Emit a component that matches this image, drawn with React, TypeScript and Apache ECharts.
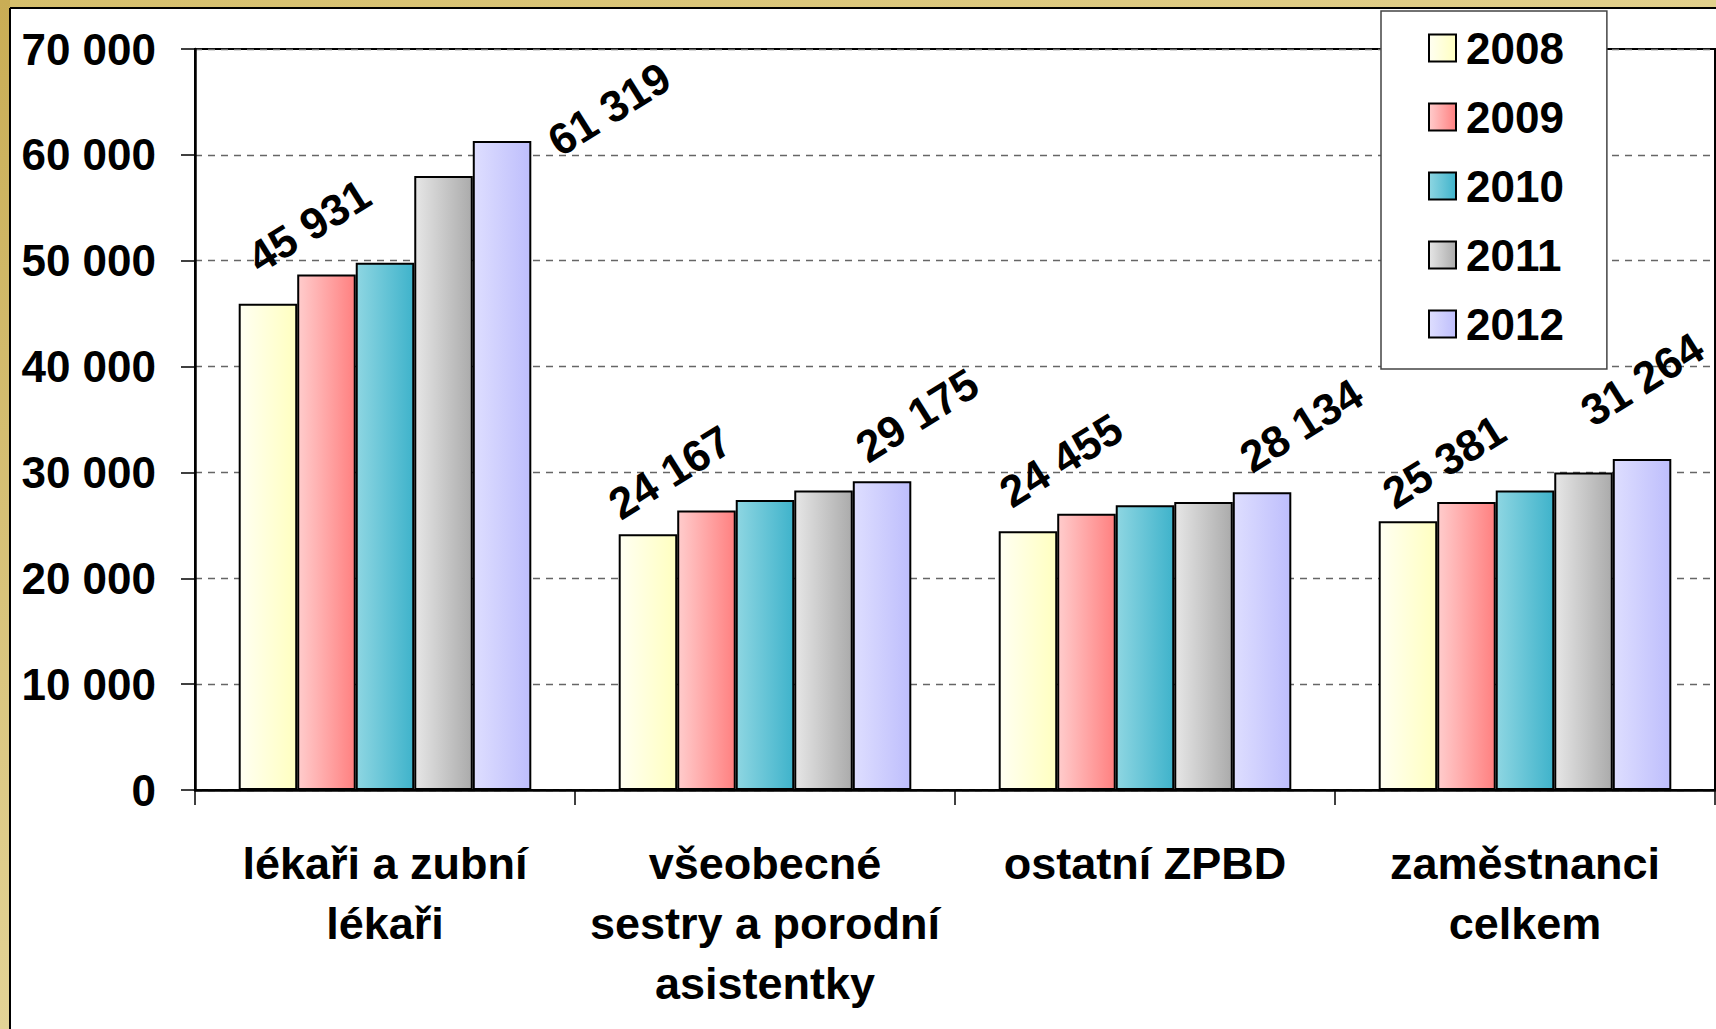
import React, { useEffect, useRef } from "react";
import * as echarts from "echarts";

const categories = [
  "lékaři a zubní\nlékaři",
  "všeobecné\nsestry a porodní\nasistentky",
  "ostatní ZPBD",
  "zaměstnanci\ncelkem",
];
const years = ["2008", "2009", "2010", "2011", "2012"];
const v2008 = [45931, 24167, 24455, 25381];
const v2009 = [48700, 26400, 26100, 27200];
const v2010 = [49800, 27400, 26900, 28300];
const v2011 = [58000, 28300, 27200, 30000];
const v2012 = [61319, 29175, 28134, 31264];
const yMin = 0;
const yMax = 70000;
const yStep = 10000;

// label placement nudges (screen px, label centre relative to bar top centre)
const nudge2008 = [[41, -78], [22, -62], [33, -71], [36, -60]];
const nudge2012 = [[107, -32], [35, -66], [39, -67], [0, -80]];

const FONT = "'Liberation Sans', Arial, sans-serif";
const ROT = 32;

const fmt = (v: number) => String(Math.round(v)).replace(/\B(?=(\d{3})+(?!\d))/g, " ");

const toOffset = (d: number[]) => {
  const r = (ROT * Math.PI) / 180;
  const c = Math.cos(r);
  const s = Math.sin(r);
  return [d[0] * c - d[1] * s, d[0] * s + d[1] * c];
};

const grad = (c1: string, c2: string) =>
  new echarts.graphic.LinearGradient(0, 0, 1, 0, [
    { offset: 0, color: c1 },
    { offset: 1, color: c2 },
  ]);

const seriesDefs = [
  { data: v2008, c1: "#FFFFF2", c2: "#FFFFC0", nudges: nudge2008 },
  { data: v2009, c1: "#FFCCCC", c2: "#FF8080", nudges: null },
  { data: v2010, c1: "#8ED6E2", c2: "#3FB3CB", nudges: null },
  { data: v2011, c1: "#E6E6E6", c2: "#ABABAB", nudges: null },
  { data: v2012, c1: "#DEDEFF", c2: "#BEBEFC", nudges: nudge2012 },
];

export default function App() {
  const ref = useRef<HTMLDivElement>(null);
  useEffect(() => {
    if (!ref.current) return;
    const chart = echarts.init(ref.current, null, { renderer: "svg" });
    const series = seriesDefs.map((d, si) => ({
      type: "bar",
      name: years[si],
      barGap: "0%",
      barCategoryGap: "23%",
      data: d.data.map((v, i) =>
        d.nudges
          ? { value: v, label: { show: true, offset: toOffset(d.nudges[i]) } }
          : v
      ),
      itemStyle: { color: grad(d.c1, d.c2), borderColor: "#000", borderWidth: 2 },
      label: {
        show: false,
        position: "top",
        distance: 0,
        rotate: ROT,
        align: "center",
        verticalAlign: "middle",
        fontSize: 44,
        fontWeight: "bold",
        fontFamily: FONT,
        color: "#000",
        formatter: (p: any) => fmt(p.value),
      },
    }));
    chart.setOption({
      animation: false,
      backgroundColor: "#fff",
      grid: {
        left: 195,
        top: 49,
        right: 1,
        bottom: 239,
        show: true,
        borderColor: "#000",
        borderWidth: 2,
      },
      legend: {
        orient: "vertical",
        left: 1381,
        top: 11,
        padding: [15, 43, 23, 47],
        itemGap: 25,
        itemWidth: 27,
        itemHeight: 27,
        icon: "rect",
        backgroundColor: "#fff",
        borderColor: "#444",
        borderWidth: 1.5,
        itemStyle: { borderColor: "#000", borderWidth: 2 },
        textStyle: {
          fontSize: 44,
          fontWeight: "bold",
          fontFamily: FONT,
          color: "#000",
          padding: [0, 0, 0, 5],
        },
        data: years,
      },
      xAxis: {
        type: "category",
        data: categories,
        axisLine: { lineStyle: { color: "#000", width: 2.5 } },
        axisTick: { show: true, length: 15, lineStyle: { color: "#000", width: 1.5 } },
        axisLabel: {
          interval: 0,
          fontSize: 45,
          fontWeight: "bold",
          fontFamily: FONT,
          color: "#000",
          lineHeight: 60,
          margin: 43,
        },
      },
      yAxis: {
        type: "value",
        min: yMin,
        max: yMax,
        interval: yStep,
        axisLine: { show: true, lineStyle: { color: "#000", width: 2.5 } },
        axisTick: { show: true, length: 14, lineStyle: { color: "#000", width: 1.5 } },
        axisLabel: {
          fontSize: 44,
          fontWeight: "bold",
          fontFamily: FONT,
          color: "#000",
          margin: 39,
          formatter: (v: number) => fmt(v),
        },
        splitLine: { show: true, lineStyle: { color: "#666", type: [7, 6], width: 1.3 } },
      },
      series,
      graphic: [
        {
          type: "rect",
          z: 100,
          shape: { x: 0, y: 0, width: 1716, height: 8 },
          style: {
            fill: new echarts.graphic.LinearGradient(0, 0, 1, 0, [
              { offset: 0, color: "#D6BF6C" },
              { offset: 1, color: "#E2D08C" },
            ]),
          },
        },
        {
          type: "rect",
          z: 100,
          shape: { x: 0, y: 0, width: 10, height: 1029 },
          style: {
            fill: new echarts.graphic.LinearGradient(0, 0, 0, 1, [
              { offset: 0, color: "#C9AD55" },
              { offset: 1, color: "#E3D396" },
            ]),
          },
        },
        {
          type: "line",
          z: 101,
          shape: { x1: 10, y1: 8, x2: 1716, y2: 8 },
          style: { stroke: "#000", lineWidth: 2 },
        },
        {
          type: "line",
          z: 101,
          shape: { x1: 10, y1: 8, x2: 10, y2: 1029 },
          style: { stroke: "#000", lineWidth: 2 },
        },
      ],
    });
    return () => chart.dispose();
  }, []);
  return (
    <div
      ref={ref}
      style={{ position: "fixed", left: 0, top: 0, width: 1716, height: 1029 }}
    />
  );
}
